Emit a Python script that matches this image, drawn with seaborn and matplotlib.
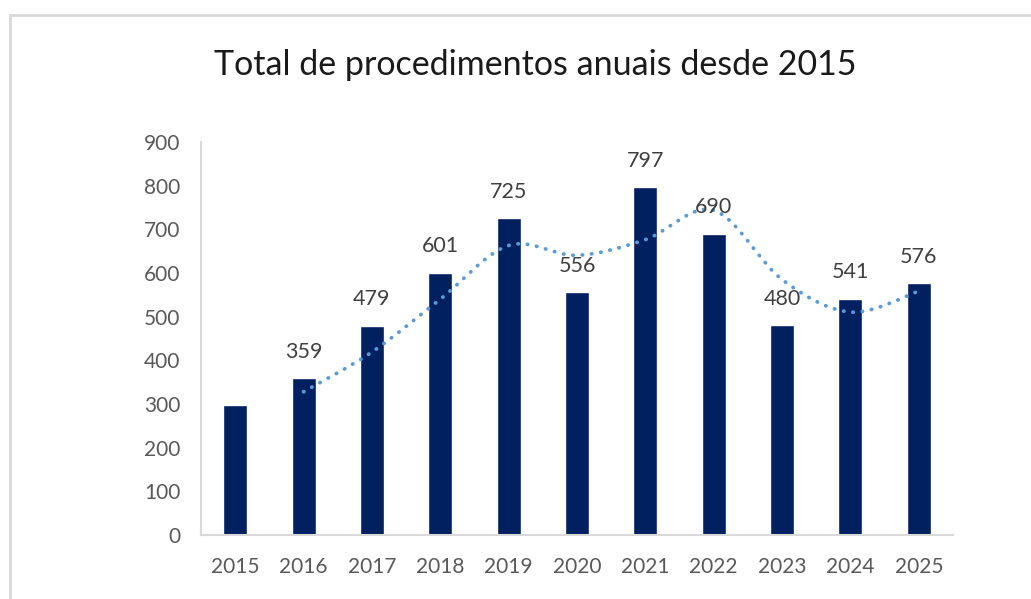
import seaborn as sns
import matplotlib.pyplot as plt
import matplotlib.patches as mpatches
from matplotlib.path import Path
import numpy as np

# ----- data -----
years = ["2015", "2016", "2017", "2018", "2019", "2020",
         "2021", "2022", "2023", "2024", "2025"]
totals = [297, 359, 479, 601, 725, 556, 797, 690, 480, 541, 576]
# 2-period moving average trend line (starts at 2016)
trend_years = years[1:]
trend = [328, 419, 540, 663, 640.5, 676.5, 743.5, 585, 510.5, 558.5]
labelled_years = years[1:]   # 2015 bar carries no data label

bar_color = "#002060"
trend_color = "#5b9bd5"
grey_text = "#595959"

sns.set_style("white")
plt.rcParams["font.family"] = ["Lato", "DejaVu Sans"]

fig = plt.figure(figsize=(10.31, 5.99), dpi=100)
W, H = 1031, 599
ax = fig.add_axes([201 / W, (H - 535) / H, (953 - 201) / W, (535 - 142) / H])

sns.barplot(x=years, y=totals, color=bar_color, width=0.35,
            saturation=1, ax=ax)

# smoothed dotted trend line (Catmull-Rom style bezier through the points)
pos = {y: i for i, y in enumerate(years)}
px = np.array([pos[y] for y in trend_years], dtype=float)
py = np.array(trend, dtype=float)
pts = np.column_stack([px, py])
verts = [pts[0]]
codes = [Path.MOVETO]
for i in range(len(pts) - 1):
    p0 = pts[i - 1] if i > 0 else pts[i]
    p1, p2 = pts[i], pts[i + 1]
    p3 = pts[i + 2] if i + 2 < len(pts) else pts[i + 1]
    c1 = p1 + (p2 - p0) / 6
    c2 = p2 - (p3 - p1) / 6
    verts += [c1, c2, p2]
    codes += [Path.CURVE4] * 3
ax.add_patch(mpatches.PathPatch(Path(verts, codes), fill=False,
                                edgecolor=trend_color, lw=2.7,
                                linestyle=(0, (0.1, 2.4)),
                                capstyle="round", zorder=3))

# data labels
for y in labelled_years:
    v = totals[pos[y]]
    ax.annotate(str(v), (pos[y], v), xytext=(0, 19), textcoords="offset points",
                ha="center", va="center", fontsize=15.5, color="#404040", zorder=4)

ax.set_ylim(0, 900)
ax.set_xlim(-0.5, len(years) - 0.5)
ax.set_yticks(range(0, 901, 100))
ax.tick_params(axis="y", length=0, pad=15, labelsize=15, labelcolor=grey_text)
ax.tick_params(axis="x", which="major", length=0, pad=16,
               labelsize=15, labelcolor=grey_text)
ax.set_xticks(np.arange(-0.5, len(years)), minor=True)
ax.tick_params(axis="x", which="minor", length=6, width=1.5, color="#d9d9d9")
ax.set_xlabel("")
ax.set_ylabel("")

for side in ["top", "right"]:
    ax.spines[side].set_visible(False)
for side in ["left", "bottom"]:
    ax.spines[side].set_color("#d9d9d9")
    ax.spines[side].set_linewidth(1.5)

fig.text(535 / W, 1 - 65 / H, "Total de procedimentos anuais desde 2015",
         ha="center", va="center", fontsize=24.5, color="#1a1a1a")

# outer chart frame (only top/left edges visible in the crop)
fig.patches.append(mpatches.Rectangle((9.5 / W, -0.05), 1.1, 1 - 14.5 / H + 0.05,
                                      transform=fig.transFigure, fill=False,
                                      edgecolor="#d9d9d9", lw=2, clip_on=False))

fig.savefig("out.png", dpi=100)
plt.close(fig)
